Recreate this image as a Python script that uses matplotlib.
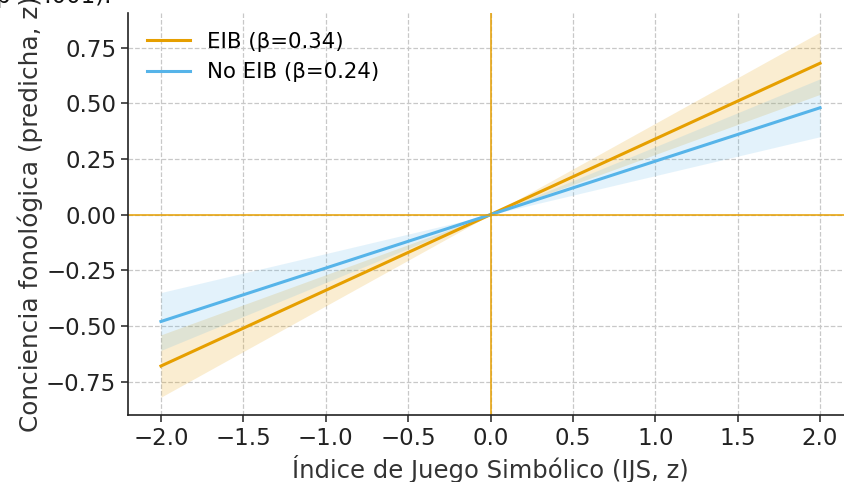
import matplotlib.pyplot as plt
import numpy as np

# values
x = np.array([-2.0, -1.0, 0.0, 1.0, 2.0])
eib_pred = np.array([-0.68, -0.34, 0.0, 0.34, 0.68])
eib_lo = np.array([-0.82, -0.41, 0.0, 0.27, 0.54])
eib_hi = np.array([-0.54, -0.27, 0.0, 0.41, 0.82])
noeib_pred = np.array([-0.48, -0.24, 0.0, 0.24, 0.48])
noeib_lo = np.array([-0.61, -0.305, 0.0, 0.175, 0.35])
noeib_hi = np.array([-0.35, -0.175, 0.0, 0.305, 0.61])

xticks = [-2.0, -1.5, -1.0, -0.5, 0.0, 0.5, 1.0, 1.5, 2.0]
yticks = [-0.75, -0.50, -0.25, 0.0, 0.25, 0.50, 0.75]

orange = '#E69F00'
blue = '#56B4E9'

plt.rcParams['font.family'] = 'DejaVu Sans'
fs = 16.5

fig = plt.figure(figsize=(8.45, 4.82), dpi=100)
ax = fig.add_axes([128/845, 67/482, 725/845, 402.3/482])

ax.fill_between(x, eib_lo, eib_hi, color=orange, alpha=0.18, lw=0)
ax.fill_between(x, noeib_lo, noeib_hi, color=blue, alpha=0.16, lw=0)
ax.plot(x, eib_pred, color=orange, lw=2.2, label='EIB (β=0.34)')
ax.plot(x, noeib_pred, color=blue, lw=2.2, label='No EIB (β=0.24)')
ax.axhline(0, color=orange, lw=1.1)
ax.axvline(0, color=orange, lw=1.1)

ax.set_xlim(-2.2, 2.2)
ax.set_ylim(-0.9, 0.907)
ax.set_xticks(xticks)
ax.set_yticks(yticks)
ax.grid(True, ls='--', color='#c8c8c8', lw=0.9)
ax.set_axisbelow(True)

for s in ['top', 'right']:
    ax.spines[s].set_visible(False)
for s in ['left', 'bottom']:
    ax.spines[s].set_linewidth(1.2)
    ax.spines[s].set_color('#222222')
ax.tick_params(labelsize=fs, colors='#222222', width=1.1, length=5)

ax.set_xlabel('Índice de Juego Simbólico (IJS, z)', fontsize=17.5, color='#333333', labelpad=4)
ax.set_ylabel('Conciencia fonológica (predicha, z)', fontsize=17.8, color='#333333', labelpad=2)
ax.legend(loc='upper left', frameon=False, fontsize=15.3)

fig.text(-0.005, 1 - 3/482, 'p < .001).', fontsize=fs, va='baseline', color='#111111')

fig.savefig('out.png', dpi=100)
